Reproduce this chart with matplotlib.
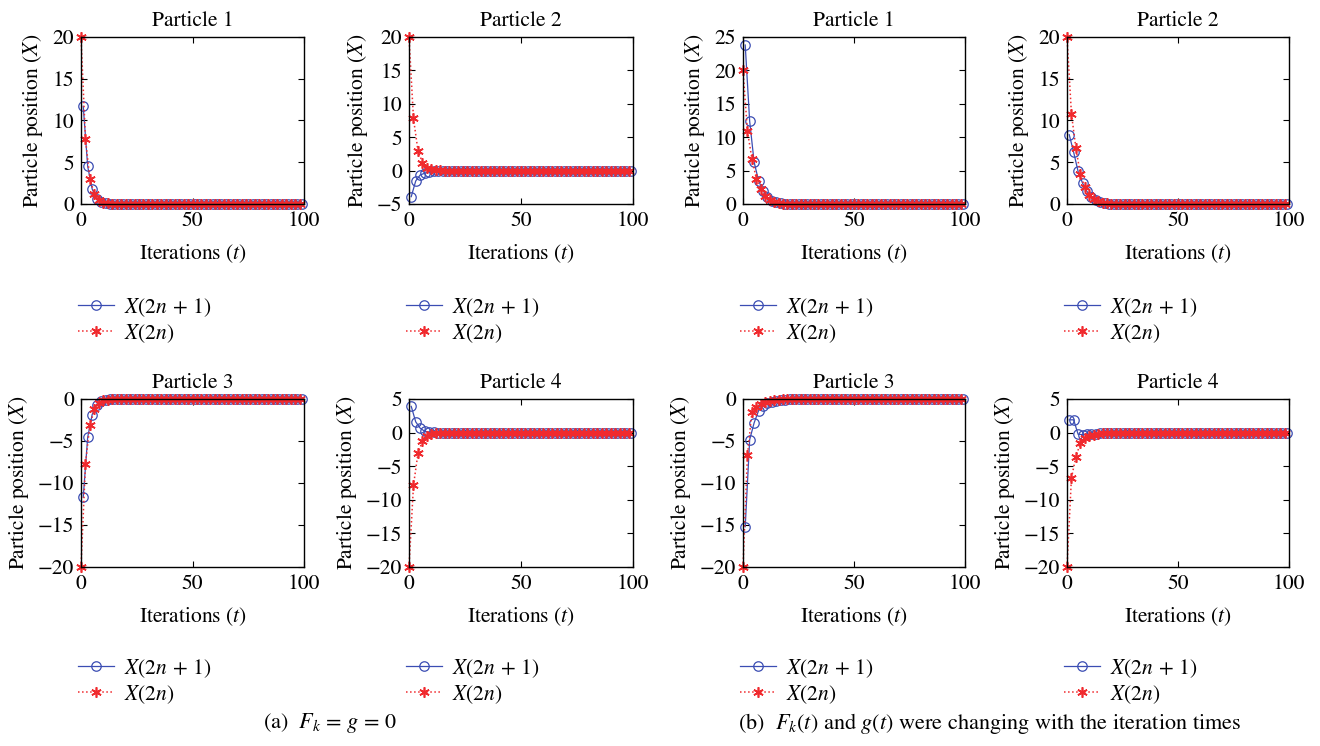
import numpy as np
import matplotlib
matplotlib.use('Agg')
import matplotlib.pyplot as plt

plt.rcParams['font.family'] = 'STIXGeneral'
plt.rcParams['mathtext.fontset'] = 'stix'
plt.rcParams['font.size'] = 15.5

# iterations: stars on even t, circles on odd t
t_even = np.arange(0, 100, 2)
t_odd = np.arange(1, 100, 2)

def pad(vals, n=50):
    return list(vals) + [0.0] * (n - len(vals))

# (a) F_k = g = 0
a_p1_odd = pad([11.7, 4.5, 1.8, 0.65, 0.27, 0.1, 0.04])
a_p1_even = pad([20.0, 7.8, 3.0, 1.2, 0.45, 0.17, 0.07, 0.03])
a_p2_odd = pad([-3.9, -1.55, -0.65, -0.4, -0.18, -0.08, -0.03])
a_p2_even = pad([20.0, 7.8, 3.0, 1.2, 0.45, 0.17, 0.07, 0.03])
a_p3_odd = pad([-11.7, -4.55, -1.85, -0.67, -0.27, -0.1, -0.04])
a_p3_even = pad([-20.0, -7.75, -3.05, -1.25, -0.45, -0.17, -0.07, -0.03])
a_p4_odd = pad([3.9, 1.6, 0.65, 0.2, 0.08, 0.03])
a_p4_even = pad([-20.0, -7.85, -3.1, -1.25, -0.5, -0.17, -0.07, -0.03])

# (b) F_k(t), g(t) changing
b_p1_odd = pad([23.8, 12.4, 6.3, 3.5, 2.0, 1.0, 0.5, 0.25, 0.12, 0.05, 0.02])
b_p1_even = pad([20.0, 10.9, 6.8, 3.8, 2.2, 1.2, 0.6, 0.3, 0.15, 0.07, 0.03])
b_p2_odd = pad([8.3, 6.2, 3.9, 2.5, 1.5, 0.85, 0.45, 0.25, 0.12, 0.05, 0.02])
b_p2_even = pad([20.0, 10.8, 6.7, 3.6, 2.0, 1.1, 0.55, 0.3, 0.15, 0.07, 0.03])
b_p3_odd = pad([-15.2, -4.85, -2.85, -1.4, -0.8, -0.5, -0.3, -0.2, -0.12, -0.07, -0.04, -0.02])
b_p3_even = pad([-20.0, -6.7, -1.6, -0.9, -0.55, -0.35, -0.2, -0.12, -0.07, -0.04, -0.02])
b_p4_odd = pad([1.9, 1.9, -0.25, -0.3, -0.25, -0.2, -0.15, -0.1, -0.06, -0.03, -0.01])
b_p4_even = pad([-20.0, -6.75, -3.6, -1.6, -0.85, -0.5, -0.3, -0.2, -0.1, -0.05, -0.02])

panels = [
    ("Particle 1", a_p1_odd, a_p1_even, (0, 20), [0, 5, 10, 15, 20]),
    ("Particle 2", a_p2_odd, a_p2_even, (-5, 20), [-5, 0, 5, 10, 15, 20]),
    ("Particle 1", b_p1_odd, b_p1_even, (0, 25), [0, 5, 10, 15, 20, 25]),
    ("Particle 2", b_p2_odd, b_p2_even, (0, 20), [0, 5, 10, 15, 20]),
    ("Particle 3", a_p3_odd, a_p3_even, (-20, 0), [-20, -15, -10, -5, 0]),
    ("Particle 4", a_p4_odd, a_p4_even, (-20, 5), [-20, -15, -10, -5, 0, 5]),
    ("Particle 3", b_p3_odd, b_p3_even, (-20, 0), [-20, -15, -10, -5, 0]),
    ("Particle 4", b_p4_odd, b_p4_even, (-20, 5), [-20, -15, -10, -5, 0, 5]),
]

W, H = 1320, 746
cols = [(81, 304), (409, 633), (743, 965), (1067, 1289)]
rows = [(37, 204), (399, 567)]
leg_top = [296, 657]

blue = '#3b4db3'
red = '#f02a2e'
asterisk = (6, 2, 0)

fig = plt.figure(figsize=(W / 100, H / 100), dpi=100)

for i, (title, odd, even, ylim, yt) in enumerate(panels):
    r, c = divmod(i, 4)
    x0, x1 = cols[c]
    y0, y1 = rows[r]
    ax = fig.add_axes([x0 / W, 1 - y1 / H, (x1 - x0) / W, (y1 - y0) / H])
    l1, = ax.plot(t_odd, odd, '-', color=blue, lw=0.9, marker='o', ms=6.8,
                  mfc='none', mec=blue, mew=0.9, label=r'$X(2n\,+\,1)$', clip_on=False)
    l2, = ax.plot(t_even, even, ':', color=red, lw=1.1, marker=asterisk, ms=7.5,
                  mfc=red, mec=red, mew=1.2, label=r'$X(2n)$', clip_on=False)
    ax.set_xlim(0, 100)
    ax.set_ylim(*ylim)
    ax.set_xticks([0, 50, 100])
    ax.set_yticks(yt)
    ax.set_yticklabels([str(v).replace('-', '\u2212') for v in yt])
    ax.tick_params(direction='in', top=True, right=True, length=4, width=0.8, pad=5)
    for s in ax.spines.values():
        s.set_linewidth(1.0)
    ax.set_title(title, fontsize=15.5, pad=8)
    ax.set_xlabel(r'Iterations $(t)$', labelpad=8)
    ax.set_ylabel(r'Particle position $(X)$', labelpad=5)
    ax.legend(handles=[l1, l2], loc='upper left',
              bbox_to_anchor=((x0 - 3) / W, 1 - leg_top[r] / H),
              bbox_transform=fig.transFigure, frameon=False, borderpad=0,
              handlelength=1.65, handletextpad=0.5, labelspacing=0.15,
              borderaxespad=0, fontsize=15.5)

fig.text(330 / W, 1 - 723 / H, r'(a)  $F_k$ = $g$ = 0', ha='center', va='center', fontsize=16)
fig.text(990 / W, 1 - 723 / H, r'(b)  $F_k(t)$ and $g(t)$ were changing with the iteration times',
         ha='center', va='center', fontsize=16)

fig.savefig('out.png', dpi=100)
